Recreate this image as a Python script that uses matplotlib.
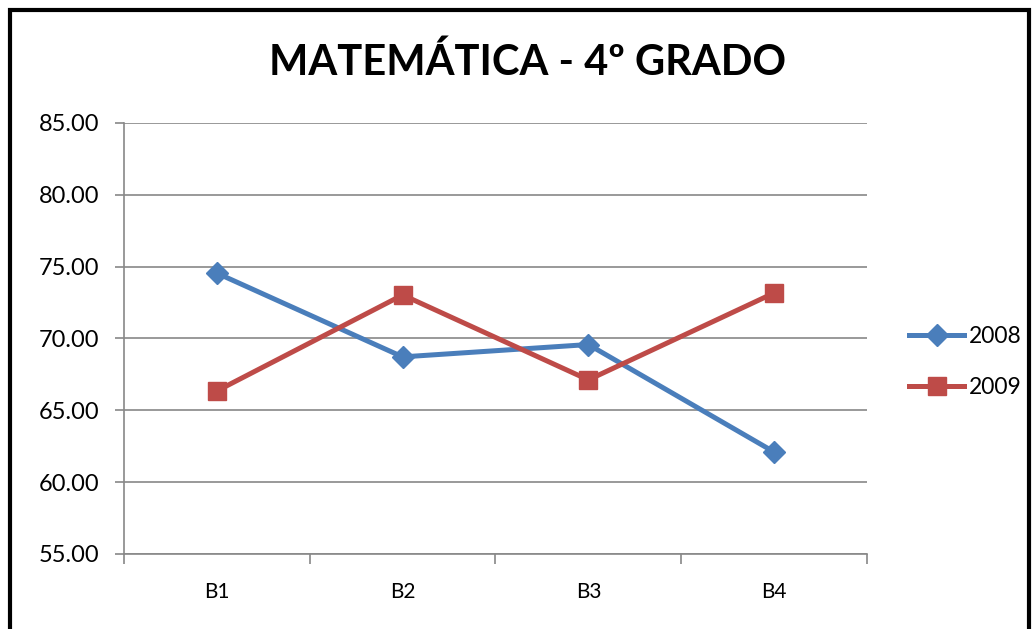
import numpy as np
import matplotlib
matplotlib.use('Agg')
import matplotlib.pyplot as plt
from matplotlib.patches import Rectangle

plt.rcParams['font.family'] = ['Lato', 'DejaVu Sans']

categorias = ['B1', 'B2', 'B3', 'B4']
v2008 = [74.55, 68.72, 69.58, 62.10]
v2009 = [66.35, 73.03, 67.12, 73.17]
yticks = [55, 60, 65, 70, 75, 80, 85]

azul = '#4A7EBB'
rojo = '#BE4B48'

fig = plt.figure(figsize=(10.36, 6.29), dpi=100)
ax = fig.add_axes([124/1036, 75/629, (867-124)/1036, (554-123)/629])

x = np.arange(len(categorias))
ax.plot(x, v2008, color=azul, lw=3.6, marker='D', ms=11, label='2008', zorder=3)
ax.plot(x, v2009, color=rojo, lw=3.6, marker='s', ms=13, label='2009', zorder=3)

ax.set_xlim(-0.5, len(categorias) - 0.5)
ax.set_ylim(55, 85)
ax.set_yticks(yticks)
ax.set_yticklabels(['%.2f' % v for v in yticks], fontsize=17)
ax.set_xticks(x)
ax.set_xticklabels(categorias, fontsize=15)
ax.set_xticks(np.arange(len(categorias) + 1) - 0.5, minor=True)
ax.tick_params(axis='x', which='major', length=0, pad=20)
ax.tick_params(axis='x', which='minor', length=7, color='#888888', width=1.2)
ax.tick_params(axis='y', length=6.5, color='#888888', width=1.2, pad=11.5)
ax.grid(axis='y', color='#888888', lw=1.2)
ax.set_axisbelow(True)
for s in ['top', 'right']:
    ax.spines[s].set_visible(False)
for s in ['left', 'bottom']:
    ax.spines[s].set_color('#888888')
    ax.spines[s].set_linewidth(1.2)

fig.text(528/1036, 1 - 62/629, 'MATEMÁTICA - 4º GRADO', ha='center', va='center',
         fontsize=30, fontweight='bold')

fig.legend(loc='center left', bbox_to_anchor=(909/1036, 1 - 362/629), frameon=False,
           fontsize=16.5, handlelength=2.4, handletextpad=0.2, labelspacing=1.35,
           borderpad=0, borderaxespad=0)

fig.patches.append(Rectangle((10/1036, -0.1), 1019/1036, 1.1 - 10/629,
                             transform=fig.transFigure, fill=False, lw=3, ec='black'))

fig.savefig('out.png', dpi=100)
